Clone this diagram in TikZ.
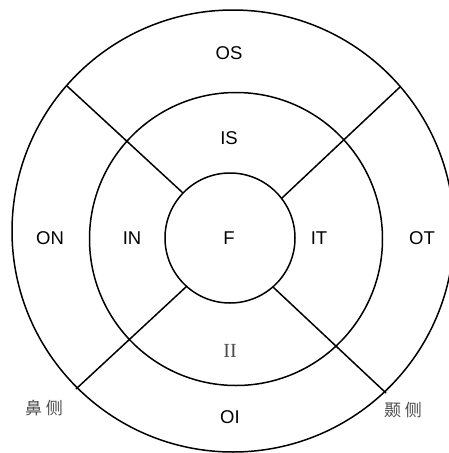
\documentclass[tikz,border=0pt]{standalone}
\usepackage{fontspec}
\setmainfont{Liberation Sans}
\newfontfamily\serifrm{Liberation Serif}
\newfontfamily\cjk{Noto Sans CJK SC}
\begin{document}
\begin{tikzpicture}[x=1pt,y=-1pt,
  ring/.style={draw=black,line width=1.5pt},
  divider/.style={draw=black,line width=1.5pt},
  lbl/.style={font=\fontsize{18.5}{18.5}\selectfont,inner sep=0pt},
  romanlbl/.style={font=\serifrm\fontsize{20}{20}\selectfont,text=black!70,inner sep=0pt},
  sidelbl/.style={font=\cjk\fontsize{17}{17}\selectfont,text=black!70,inner sep=0pt}]
\useasboundingbox (0,0) rectangle (449,453);
\clip (0,0) rectangle (449,453);
% rings
\draw[ring] (233,231) circle (221);
\draw[ring] (236,239) circle (146.5);
\draw[ring] (230,238) circle (65);
% divider end points
\coordinate (nwo) at (67,86);
\coordinate (nwi) at (183,193);
\coordinate (neo) at (400,87);
\coordinate (nei) at (282,198);
\coordinate (swo) at (76,389);
\coordinate (swi) at (187,286);
\coordinate (seo) at (386,393);
\coordinate (sei) at (273,287);
\draw[divider] (nwo) -- (nwi);
\draw[divider] (neo) -- (nei);
\draw[divider] (swo) -- (swi);
\draw[divider] (seo) -- (sei);
% labels
\node[lbl] (os) at (229,53) {OS};
\node[lbl] (is) at (229,138) {IS};
\node[lbl] (f) at (229,238) {F};
\node[lbl] (it) at (319,238) {IT};
\node[lbl] (ot) at (422,238) {OT};
\node[lbl] (on) at (50,238) {ON};
\node[lbl] (in) at (132,238) {IN};
\node[romanlbl] (ii) at (230,351) {II};
\node[lbl] (oi) at (230,417) {OI};
\node[sidelbl] (nasal) at (44,408) {鼻\hspace{4pt}侧};
\node[sidelbl] (temporal) at (403,410) {颞\hspace{4pt}侧};
\end{tikzpicture}
\end{document}
